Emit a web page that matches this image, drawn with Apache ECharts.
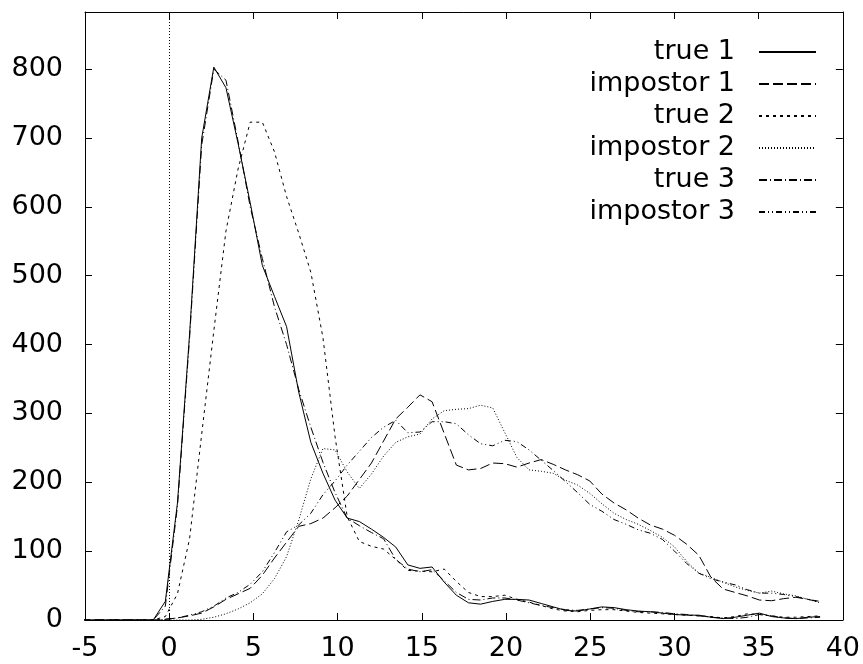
<!DOCTYPE html>
<html><head><meta charset="utf-8">
<script src="https://cdn.jsdelivr.net/npm/echarts@6/dist/echarts.min.js"></script>
<style>html,body{margin:0;padding:0;background:#fff}#c{width:863px;height:664px}</style>
</head><body><div id="c"></div>
<script>
// x positions of the samples
const xs = [-5.27,-4.55,-3.83,-3.11,-2.39,-1.67,
  -0.95,-0.23,0.49,1.21,1.93,2.65,3.37,4.09,4.81,5.53,
  6.25,6.97,7.69,8.41,9.13,9.85,10.57,11.29,12.01,12.73,
  13.45,14.17,14.89,15.61,16.33,17.05,17.77,18.49,19.21,19.93,
  20.65,21.37,22.09,22.81,23.53,24.25,24.97,25.69,26.41,27.13,
  27.85,28.57,29.29,30.01,30.73,31.45,32.17,32.89,33.61,34.33,
  35.05,35.77,36.49,37.21,37.93,38.65];

const true1 = [0,0,0,0,0,0,
  0,27,170,415,700,803,773,692,606,515,
  470,426,331,258,213,174,148,143,132,120,
  106,80,75,77,55,36,25,23,27,30,
  30,29,24,19,14,13,16,19,18,15,
  13,12,10,8,7,7,4,2,4,7,
  10,5,3,2,4,5];
const impostor1 = [0,0,0,0,0,0,
  0,1,3,6,10,19,30,38,46,65,
  90,113,136,140,148,163,180,204,228,260,
  292,309,327,317,271,225,218,220,228,227,
  222,228,233,226,218,211,202,183,170,160,
  148,138,132,123,110,94,62,45,40,35,
  29,28,31,33,30,26];
const true2 = [0,0,0,0,0,0,
  0,5,38,118,270,420,565,655,723,723,
  680,615,562,505,410,266,150,114,107,103,
  88,72,71,70,74,56,40,34,34,36,
  30,26,21,16,13,12,14,15,15,13,
  11,10,9,8,7,6,5,3,5,9,
  8,6,4,4,5,6];
const impostor2 = [0,0,0,0,0,0,
  0,0,0,0,1,4,9,16,25,38,
  60,92,145,205,249,247,215,191,212,238,
  258,266,270,292,304,306,307,312,308,272,
  236,218,216,213,203,196,184,169,155,146,
  139,130,120,106,85,68,62,55,48,43,
  39,42,38,35,30,25];
const true3 = [0,0,0,0,0,0,
  0,20,165,410,690,800,784,695,600,525,
  455,400,335,280,229,185,148,137,127,118,
  88,74,70,73,57,40,30,29,32,32,
  29,25,21,18,15,14,16,18,17,14,
  12,12,11,9,8,6,4,3,2,4,
  8,6,3,2,3,4];
const impostor3 = [0,0,0,0,0,0,
  0,1,3,7,12,20,32,40,52,70,
  98,128,138,155,182,202,225,245,265,280,
  290,272,273,288,288,285,269,256,253,261,
  259,247,232,217,201,185,168,158,146,139,
  131,126,117,100,82,68,60,55,51,44,
  39,39,37,34,30,27];

const names = ['true 1','impostor 1','true 2','impostor 2','true 3','impostor 3'];
const values = [true1, impostor1, true2, impostor2, true3, impostor3];
const dashes = ['solid', [10,4], [3,4], [1,2], [8,3,1,3], [6,3,1,3,1,3]];

const FONT = 'DejaVu Sans';
const chart = echarts.init(document.getElementById('c'), null, {renderer:'canvas'});

const series = names.map((n, i) => ({
  name: n,
  type: 'line',
  symbol: 'none',
  showSymbol: false,
  clip: true,
  animation: false,
  lineStyle: {color:'#000', width:1, type: dashes[i]},
  itemStyle: {color:'#000'},
  data: xs.map((x, j) => [x, values[i][j]])
}));
series[0].markLine = {
  silent: true, symbol: ['none','none'], label: {show:false},
  lineStyle: {color:'#000', width:1, type:[1,2]},
  data: [{xAxis: 0}]
};

const axisCommon = {
  axisLine: {show:true, onZero:false, lineStyle:{color:'#000', width:1}},
  axisTick: {show:true, inside:true, length:7, lineStyle:{color:'#000', width:1}},
  splitLine: {show:false}
};

chart.setOption({
  animation: false,
  backgroundColor: '#fff',
  grid: {left:85, right:18, top:12, bottom:44, containLabel:false},
  legend: {
    data: names,
    orient: 'vertical',
    align: 'right',
    right: 46, top: 36,
    padding: 0,
    itemWidth: 57, itemHeight: 14, itemGap: 0,
    itemStyle: {opacity: 0},
    textStyle: {fontFamily: FONT, fontSize: 27, color:'#000', lineHeight: 32, padding:[0,19,0,0]}
  },
  xAxis: [
    Object.assign({type:'value', min:-5, max:40, interval:5, position:'bottom',
      axisLabel:{show:true, color:'#000', fontFamily:FONT, fontSize:27, margin:15}}, axisCommon),
    Object.assign({type:'value', min:-5, max:40, interval:5, position:'top',
      axisLabel:{show:false}}, axisCommon)
  ],
  yAxis: [
    Object.assign({type:'value', min:0, max:883, interval:100, position:'left',
      axisLabel:{show:true, color:'#000', fontFamily:FONT, fontSize:27, margin:22, showMaxLabel:false}}, axisCommon),
    Object.assign({type:'value', min:0, max:883, interval:100, position:'right',
      axisLabel:{show:false}}, axisCommon)
  ],
  series: series
});
</script>
</body></html>
